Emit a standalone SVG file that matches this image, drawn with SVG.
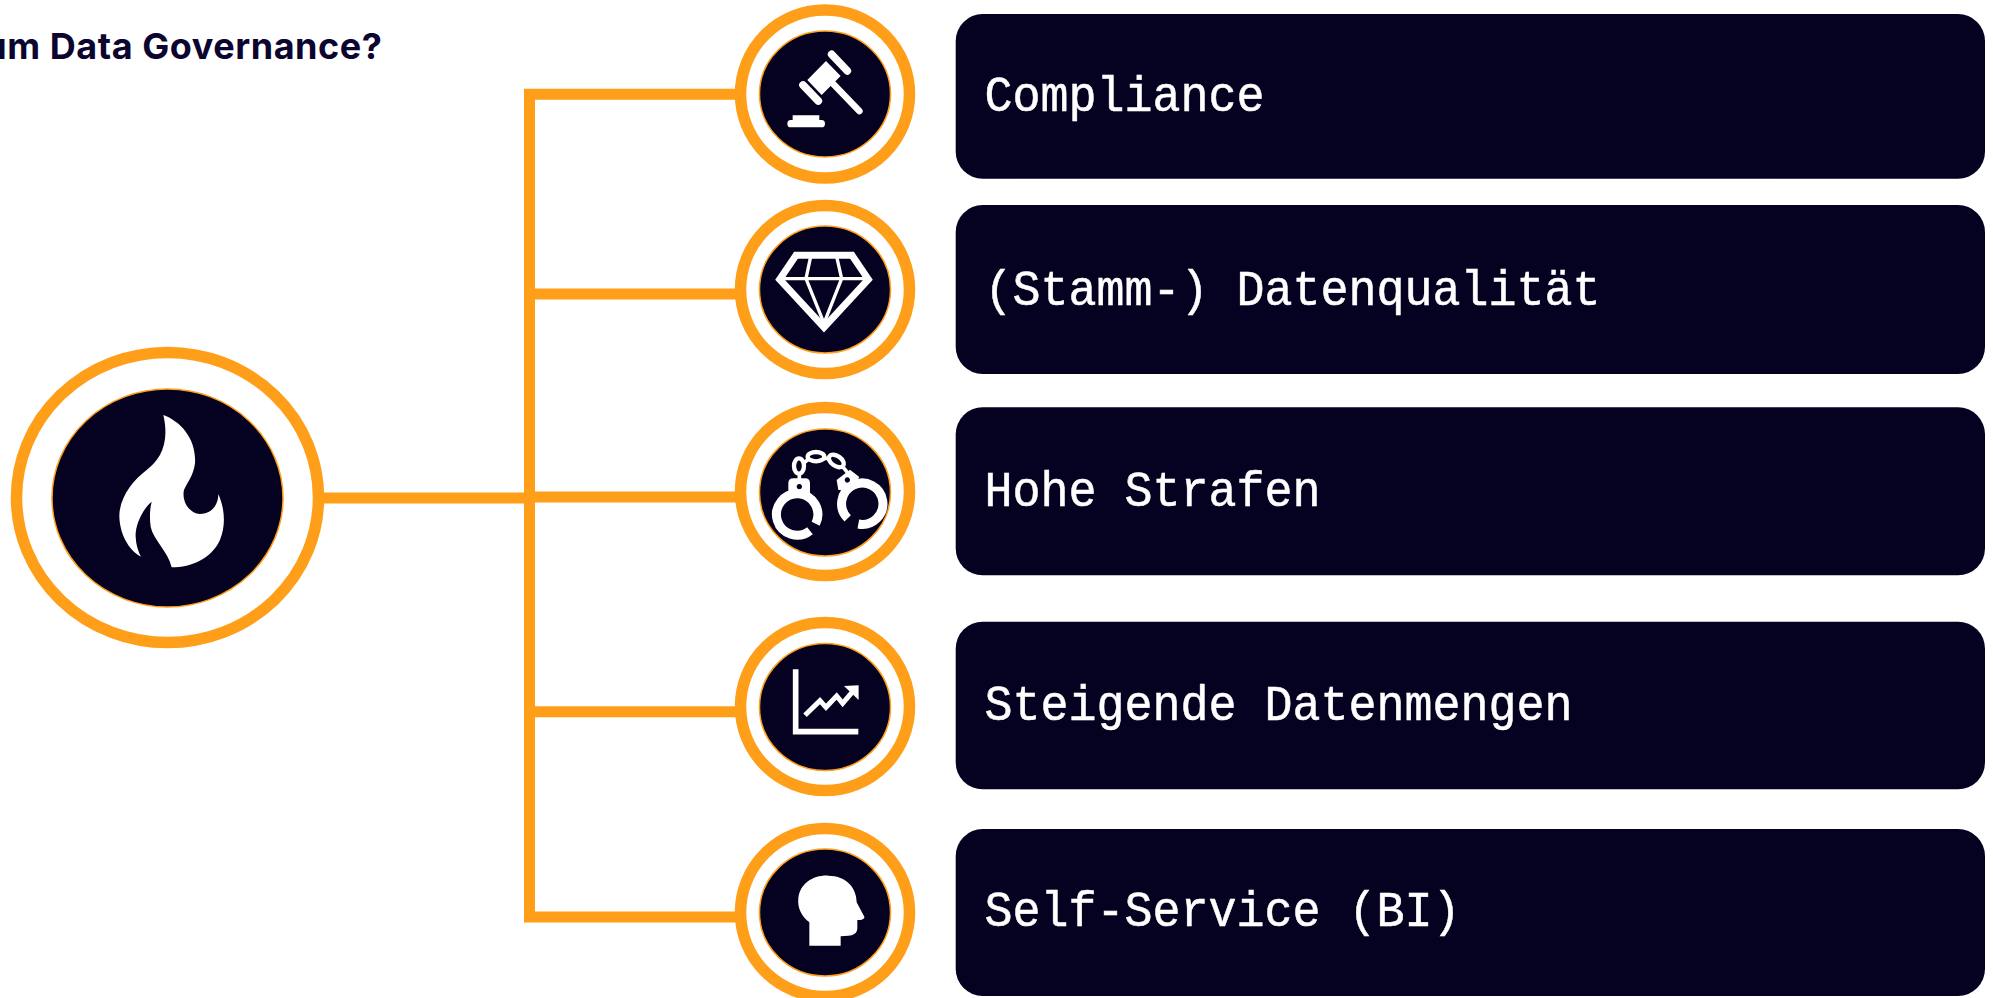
<svg xmlns="http://www.w3.org/2000/svg" width="1993" height="998" viewBox="0 0 1993 998">
<style>
.ring{fill:#fff;stroke:#ff9e18;stroke-width:11.5}
.disc{fill:#050121;stroke:#ff9e18;stroke-width:1.5}
.conn{fill:none;stroke:#ff9e18;stroke-width:11}
.box{fill:#050121}
.lbl{font-family:"Liberation Mono","DejaVu Sans Mono",monospace;font-size:46.67px;fill:#fff;stroke:#fff;stroke-width:.5}
.title{font-family:"Inter","Liberation Sans",sans-serif;font-weight:700;font-size:36px;letter-spacing:.55px;fill:#0b0530}
.w{fill:#fff}
.ws{fill:none;stroke:#fff}
</style>
<rect width="1993" height="998" fill="#fff"/>
<text id="title" class="title" x="382.5" y="59" text-anchor="end">um Data Governance?</text>
<g id="connectors">
<path class="conn" d="M737 94.3H529.5V917H737"/>
<path class="conn" d="M529.5 294H737"/>
<path class="conn" d="M320 498H529.5"/>
<path class="conn" d="M529.5 497H737"/>
<path class="conn" d="M529.5 711.7H737"/>
</g>
<g id="root">
<ellipse class="ring" cx="167.5" cy="497.5" rx="151" ry="145"/>
<ellipse class="disc" cx="167.5" cy="498" rx="115.5" ry="109"/>
<g transform="translate(0 330) scale(.3333)"><path class="w" d="M490 255C545 275 590 330 585 400C580 440 560 460 552 480C545 510 565 550 600 552C635 552 655 525 655 492C672 530 680 580 660 630C635 685 575 712 515 712C505 665 460 630 452 590C448 560 450 535 455 515C425 540 405 590 407 620C408 645 415 665 423 680C385 660 358 610 358 555C360 500 400 450 440 420C480 390 510 340 490 255Z"/></g>
</g>
<g id="icon-compliance">
<ellipse class="ring" cx="825" cy="94" rx="84.5" ry="84"/>
<ellipse class="disc" cx="825" cy="94" rx="65.5" ry="63"/>
<g transform="translate(720 0) scale(.3333)">
<path class="ws" stroke-width="23" stroke-linecap="round" d="M335 163L382 213M249 255L295 303"/>
<path class="w" d="M318 183L362 228L305 285L262 240Z"/>
<path class="ws" stroke-width="20" stroke-linecap="round" d="M340 252L418 333"/>
<path class="w" d="M218 346H298V360H305Q315 360 315 371Q315 382 305 382H212Q202 382 202 371Q202 360 212 360H218Z"/>
</g>
</g>
<g id="icon-datenqualitaet">
<ellipse class="ring" cx="825" cy="289.5" rx="84.5" ry="84"/>
<ellipse class="disc" cx="825" cy="289.5" rx="65.5" ry="63.5"/>
<g transform="translate(720 190) scale(.3333)">
<path class="ws" stroke-width="21" stroke-linejoin="miter" d="M228 196H396L445 268L312 412L179 268Z"/>
<path class="ws" stroke-width="10" d="M178 266H445M272 200L258 266L312 400L365 266L350 200"/>
</g>
</g>
<g id="icon-strafen">
<ellipse class="ring" cx="825" cy="491.5" rx="84.5" ry="84"/>
<ellipse class="disc" cx="825" cy="492.5" rx="65.5" ry="63.5"/>
<g transform="translate(720 395) scale(.3333)">
<path class="ws" stroke-width="27" d="M287 386A62 62 0 1 0 270 407"/>
<path class="ws" stroke-width="27" d="M383 370A62 62 0 1 1 415 387"/>
<path class="w" fill-rule="evenodd" d="M205 265Q205 250 220 250H255Q270 250 270 265V305H205ZM238 267a8 8 0 1 0 .1 0Z"/>
<path class="w" fill-rule="evenodd" d="M350 255L390 224L418 246L395 285H355ZM382 247a8 8 0 1 0 .1 0Z"/>
<ellipse class="ws" stroke-width="13" cx="237" cy="213" rx="15" ry="23"/>
<ellipse class="ws" stroke-width="13" cx="288" cy="185" rx="25" ry="14"/>
<ellipse class="ws" stroke-width="13" cx="349" cy="198" rx="25" ry="15" transform="rotate(35 349 198)"/>
<path class="ws" stroke-width="11" d="M238 235V255M253 203L266 192M310 190L328 190M368 215L382 232"/>
</g>
</g>
<g id="icon-datenmengen">
<ellipse class="ring" cx="825" cy="706.5" rx="84.5" ry="84"/>
<ellipse class="disc" cx="825" cy="707" rx="65.5" ry="63.5"/>
<g transform="translate(720 610) scale(.3333)">
<path class="ws" stroke-width="17" d="M227 178V365H415"/>
<path class="ws" stroke-width="15" d="M255 316L300 272L318 292L350 258L368 280L398 245"/>
<path class="w" d="M372 228L416 226L416 270Z"/>
</g>
</g>
<g id="icon-selfservice">
<ellipse class="ring" cx="825" cy="912.5" rx="84.5" ry="84"/>
<ellipse class="disc" cx="825" cy="912.5" rx="65.5" ry="63.5"/>
<g transform="translate(720 815) scale(.3333)">
<path class="w" d="M268 392L268 322C245 305 232 280 235 250C240 205 280 180 325 182C375 182 410 215 410 262L433 305C435 312 425 315 412 315L412 340C412 355 400 362 385 362L362 364L362 392Z"/>
</g>
</g>
<g id="box-compliance"><rect class="box" x="955.7" y="14" width="1029.3" height="164.7" rx="27"/><text class="lbl" transform="translate(984.5 111) scale(1 1.06)">Compliance</text></g>
<g id="box-datenqualitaet"><rect class="box" x="955.7" y="205" width="1029.3" height="169" rx="27"/><text class="lbl" transform="translate(984.5 304.5) scale(1 1.06)">(Stamm-) Datenqualität</text></g>
<g id="box-strafen"><rect class="box" x="955.7" y="407.3" width="1029.3" height="168" rx="27"/><text class="lbl" transform="translate(984.5 506) scale(1 1.06)">Hohe Strafen</text></g>
<g id="box-datenmengen"><rect class="box" x="955.7" y="621.7" width="1029.3" height="167.6" rx="27"/><text class="lbl" transform="translate(984.5 720) scale(1 1.06)">Steigende Datenmengen</text></g>
<g id="box-selfservice"><rect class="box" x="955.7" y="829" width="1029.3" height="167" rx="27"/><text class="lbl" transform="translate(984.5 926) scale(1 1.06)">Self-Service (BI)</text></g>
</svg>
